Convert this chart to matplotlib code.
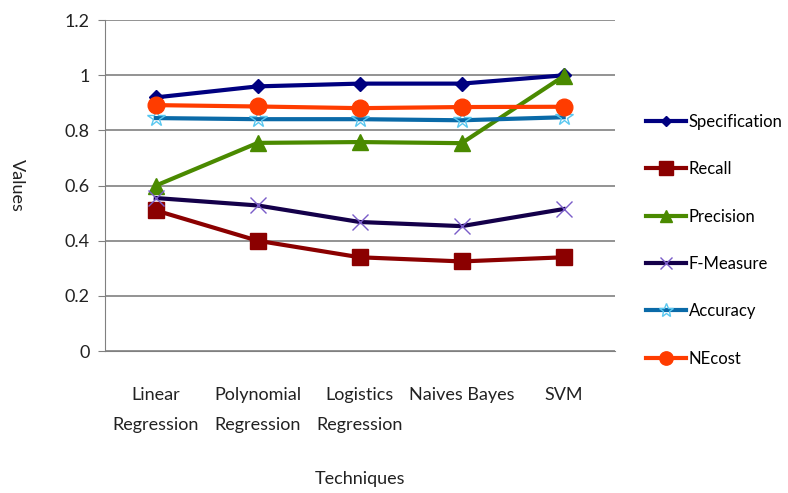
import matplotlib.pyplot as plt

# Techniques compared
techniques = ["Linear\nRegression", "Polynomial\nRegression", "Logistics\nRegression",
              "Naives Bayes", "SVM"]

# Metric values per technique
specification = [0.92, 0.96, 0.97, 0.97, 1.00]
recall = [0.51, 0.40, 0.34, 0.325, 0.34]
precision = [0.60, 0.755, 0.758, 0.754, 0.997]
f_measure = [0.555, 0.528, 0.468, 0.453, 0.515]
accuracy = [0.845, 0.841, 0.841, 0.837, 0.848]
necost = [0.892, 0.887, 0.881, 0.885, 0.886]

plt.rcParams['font.family'] = ['Lato', 'DejaVu Sans']

fig = plt.figure(figsize=(7.88, 4.93), dpi=100)
ax = fig.add_axes([0.133, 0.288, 0.647, 0.671])

x = list(range(len(techniques)))

ax.plot(x, specification, color="#000080", lw=3, marker="D", ms=7,
        label="Specification", zorder=5)
ax.plot(x, recall, color="#8b0000", lw=3, marker="s", ms=12,
        label="Recall", zorder=5)
ax.plot(x, precision, color="#4a8a00", lw=3, marker="^", ms=11,
        label="Precision", zorder=5)
ax.plot(x, f_measure, color="#14004a", lw=3, marker="x", ms=11,
        mec="#7a5cc8", mew=1, label="F-Measure", zorder=5)
ax.plot(x, accuracy, color="#0a6aa8", lw=3, marker="*", ms=13,
        mec="#5ac8f0", mfc="none", mew=1, label="Accuracy", zorder=5)
ax.plot(x, necost, color="#ff3c00", lw=3, marker="o", ms=12,
        label="NEcost", zorder=6)

ax.set_xlim(-0.5, len(techniques) - 0.5)
ax.set_ylim(0, 1.2)
ax.set_yticks([0, 0.2, 0.4, 0.6, 0.8, 1.0, 1.2])
ax.set_yticklabels(["0", "0.2", "0.4", "0.6", "0.8", "1", "1.2"])
ax.set_xticks(x)
ax.set_xticklabels(techniques, fontsize=13, color="#222222",
                   linespacing=2.1, va="top")
ax.tick_params(axis="x", length=0, pad=26)
ax.tick_params(axis="y", length=5, color="#808080", labelsize=13,
               labelcolor="#222222", pad=6)

ax.grid(axis="y", color="#808080", lw=1.2)
ax.set_axisbelow(True)
for side in ["top", "right"]:
    ax.spines[side].set_visible(False)
for side in ["left", "bottom"]:
    ax.spines[side].set_color("#808080")

ax.set_xlabel("Techniques", fontsize=13, color="#222222", labelpad=27)
ax.set_ylabel("Values", fontsize=13, color="#222222", rotation=270,
              labelpad=40, va="bottom")

ax.legend(loc="upper left", bbox_to_anchor=(1.049, 0.737), frameon=False,
          fontsize=12, labelspacing=1.88, handlelength=2.4,
          handletextpad=0.15, markerscale=0.8, borderaxespad=0)

fig.savefig("out.png", dpi=100)
